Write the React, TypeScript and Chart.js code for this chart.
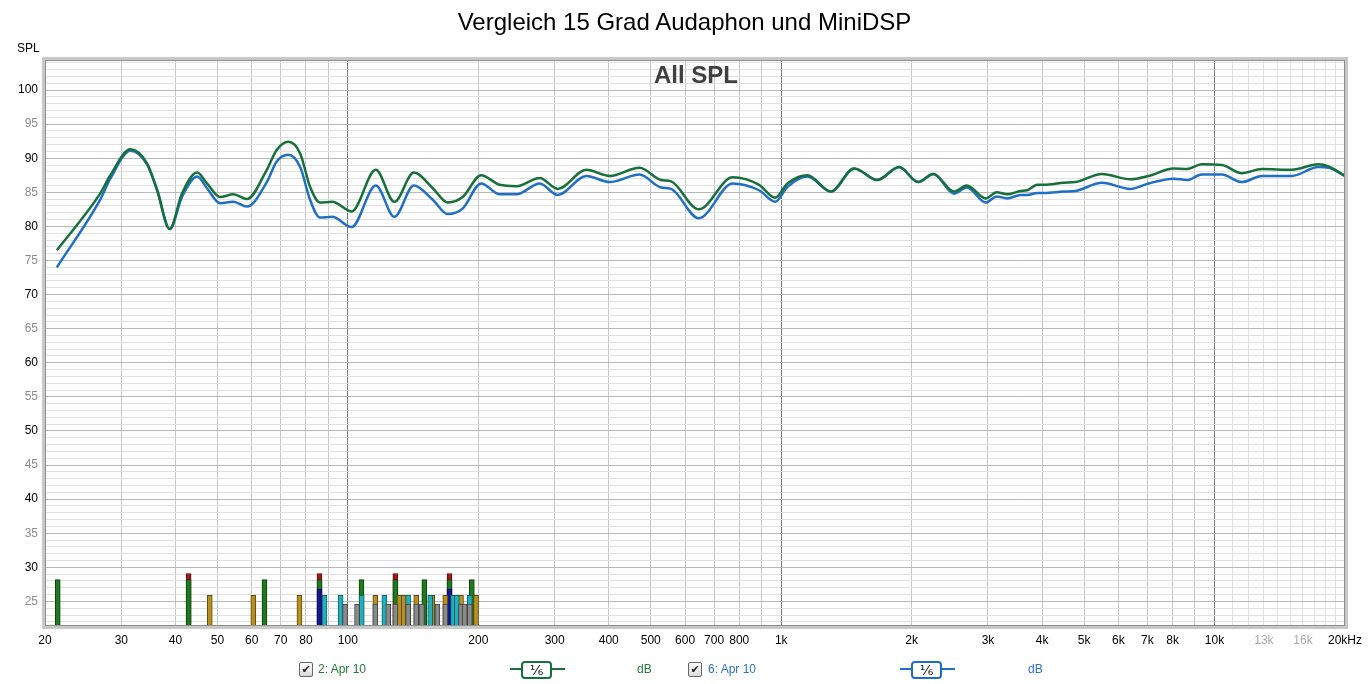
import React, { useEffect, useRef } from "react";
import { Chart, registerables } from "chart.js";

Chart.register(...registerables);

// frequency points (Hz)
const freqs = [
  21.3, 26.8, 28.3, 31.5, 34.4, 36.3, 38.8, 41.4, 44.9, 47.3, 50.7, 54.4, 58.5, 65, 68.5, 72.9, 77.6, 81.8,
  86.2, 92, 102, 116, 128, 142, 157, 170, 184, 203, 224, 245, 277, 305, 355, 402, 471, 528, 557, 645, 773,
  889, 968, 1034, 1150, 1302, 1474, 1667, 1871, 2069, 2244, 2506, 2681, 2965, 3141, 3323, 3567, 3697, 3899,
  4037, 4489, 4777, 5500, 6397, 7047, 8045, 8630, 9350, 10398, 11560, 12860, 15070, 17360, 18320, 20000,
];

// "2: Apr 10" (green)
const spl2 = [
  76.5, 84.8, 87.5, 91.3, 89.2, 85.3, 79.6, 84.8, 87.9, 86.3, 84.3, 84.7, 84.0, 88.3, 91.2, 92.4, 90.7, 85.8,
  83.5, 83.6, 82.2, 88.3, 83.6, 87.9, 85.6, 83.5, 84.3, 87.5, 86.1, 85.9, 87.1, 85.5, 88.3, 87.4, 88.6, 86.8,
  86.6, 82.5, 87.2, 86.1, 84.2, 86.3, 87.5, 85.1, 88.5, 86.8, 88.7, 86.5, 87.7, 85.1, 86.0, 84.1, 85.0, 84.7,
  85.2, 85.3, 86.1, 86.1, 86.4, 86.5, 87.7, 86.9, 87.4, 88.5, 88.4, 89.1, 89.0, 87.8, 88.4, 88.3, 89.1, 88.8,
  87.4,
];

// "6: Apr 10" (blue)
const spl6 = [
  74.0, 83.9, 87.0, 91.1, 89.1, 85.3, 79.6, 84.3, 87.3, 85.6, 83.4, 83.6, 82.9, 86.5, 89.5, 90.5, 88.7, 83.9,
  81.3, 81.4, 79.9, 86.0, 81.4, 86.0, 83.9, 81.8, 82.6, 86.3, 84.7, 84.7, 86.3, 84.6, 87.4, 86.5, 87.6, 85.7,
  85.5, 81.2, 86.3, 85.3, 83.6, 85.8, 87.3, 85.1, 88.5, 86.8, 88.7, 86.5, 87.7, 84.8, 85.7, 83.5, 84.4, 84.1,
  84.6, 84.6, 84.9, 84.9, 85.1, 85.2, 86.4, 85.5, 86.3, 87.0, 86.8, 87.6, 87.6, 86.5, 87.4, 87.4, 88.7, 88.6,
  87.4,
];

// indicator bars at the bottom (frequency, top level in dB)
const redFreqs = [42.9, 86.0, 128.7, 171.6];
const redTop = 29.1;
const greenFreqs = [21.4, 42.9, 64.2, 86.0, 107.5, 128.7, 150.1, 171.6, 193.2];
const greenTop = 28.2;
const blueFreqs = [86.0, 171.6];
const blueTop = 26.8;
const goldFreqs = [48, 60.5, 77.3, 115.7, 131.6, 134.6, 143.8, 156.5, 167.8, 182.4, 197.6];
const goldTop = 25.9;
const cyanFreqs = [88.3, 96.2, 107.6, 121.4, 137.7, 154.9, 174.9, 178.4, 191.1];
const cyanTop = 25.9;
const grayFreqs = [98.5, 105.0, 115.7, 123.9, 128.7, 137.7, 143.8, 148.2, 160.9, 167.8, 182.4, 186.0, 191.1];
const grayTop = 24.6;

const xTicks = [
  20, 30, 40, 50, 60, 70, 80, 90, 100, 200, 300, 400, 500, 600, 700, 800, 900, 1000, 2000, 3000, 4000, 5000,
  6000, 7000, 8000, 9000, 10000, 11000, 12000, 13000, 14000, 15000, 16000, 17000, 18000, 19000, 20000,
];
const xLabels: Record<number, string> = {
  20: "20", 30: "30", 40: "40", 50: "50", 60: "60", 70: "70", 80: "80", 100: "100", 200: "200", 300: "300",
  400: "400", 500: "500", 600: "600", 700: "700", 800: "800", 1000: "1k", 2000: "2k", 3000: "3k", 4000: "4k",
  5000: "5k", 6000: "6k", 7000: "7k", 8000: "8k", 10000: "10k", 13000: "13k", 16000: "16k", 20000: "20kHz",
};
const yTicks = Array.from({ length: 83 }, (_, i) => 22 + i);

const Y_MIN = 21.4;
const Y_MAX = 104.4;

const FONT = '"Liberation Sans", Arial, sans-serif';

const framePlugin = {
  id: "frame",
  afterDraw(chart: any) {
    const { ctx, chartArea: a } = chart;
    ctx.save();
    ctx.strokeStyle = "#c8c8c8";
    ctx.lineWidth = 3;
    ctx.strokeRect(a.left - 1.5, a.top - 1.5, a.right - a.left + 3, a.bottom - a.top + 3);
    ctx.strokeStyle = "#8e8e8e";
    ctx.lineWidth = 1;
    ctx.strokeRect(a.left + 0.5, a.top + 0.5, a.right - a.left - 1, a.bottom - a.top - 1);
    ctx.restore();
  },
};

const bars = (fs: number[], top: number, bg: string, border: string, order: number) => ({
  type: "bar" as const,
  data: fs.map((f) => ({ x: f, y: [Y_MIN, top] })),
  backgroundColor: bg,
  borderColor: border,
  borderWidth: 1,
  borderSkipped: "start" as const,
  barThickness: 5,
  grouped: false,
  order,
});

const Checkbox: React.FC<{ left: number }> = ({ left }) => (
  <div
    style={{
      position: "absolute",
      left,
      top: 662,
      width: 12,
      height: 13,
      border: "1px solid #666",
      borderRadius: 2,
      background: "linear-gradient(#ffffff, #d8d8d8)",
      fontSize: 11,
      lineHeight: "13px",
      textAlign: "center",
      color: "#222",
      fontFamily: '"DejaVu Sans", sans-serif',
    }}
  >
    ✔
  </div>
);

const LineSymbol: React.FC<{ left: number; color: string }> = ({ left, color }) => (
  <>
    <div style={{ position: "absolute", left, top: 668, width: 55, height: 2, background: color }} />
    <div
      style={{
        position: "absolute",
        left: left + 11,
        top: 661,
        width: 27,
        height: 14,
        border: `2px solid ${color}`,
        borderRadius: 4,
        background: "#fff",
        fontSize: 14,
        lineHeight: "14px",
        textAlign: "center",
        color: "#222",
        fontFamily: '"DejaVu Sans", sans-serif',
      }}
    >
      ⅙
    </div>
  </>
);

const App: React.FC = () => {
  const canvasRef = useRef<HTMLCanvasElement>(null);
  const chartRef = useRef<Chart>();

  useEffect(() => {
    if (!canvasRef.current) return;
    const ctx = canvasRef.current.getContext("2d");
    if (!ctx) return;

    chartRef.current = new Chart(ctx, {
      type: "line",
      data: {
        datasets: [
          {
            type: "line",
            label: "2: Apr 10",
            data: freqs.map((f, i) => ({ x: f, y: spl2[i] })),
            borderColor: "#17703a",
            borderWidth: 2.5,
            pointRadius: 0,
            cubicInterpolationMode: "monotone",
            fill: false,
            order: 0,
          },
          {
            type: "line",
            label: "6: Apr 10",
            data: freqs.map((f, i) => ({ x: f, y: spl6[i] })),
            borderColor: "#1f6fc6",
            borderWidth: 2.5,
            pointRadius: 0,
            cubicInterpolationMode: "monotone",
            fill: false,
            order: 0,
          },
          bars(redFreqs, redTop, "#a8141e", "#5a0a0a", 6),
          bars(greenFreqs, greenTop, "#1e7a1e", "#0e400e", 5),
          bars(blueFreqs, blueTop, "#16168e", "#0a0a50", 4),
          bars(goldFreqs, goldTop, "#b8901e", "#5e4a10", 3),
          bars(cyanFreqs, cyanTop, "#22b0bc", "#106068", 2),
          bars(grayFreqs, grayTop, "#8a8a8a", "#404040", 1),
        ] as any,
      },
      options: {
        animation: false,
        responsive: true,
        maintainAspectRatio: false,
        layout: { padding: { top: 60, right: 22, bottom: 33, left: 0 } },
        plugins: {
          legend: { display: false },
          tooltip: { enabled: false },
        },
        scales: {
          x: {
            type: "logarithmic",
            min: 20,
            max: 20000,
            offset: false,
            border: { display: false },
            afterBuildTicks: (scale: any) => {
              scale.ticks = xTicks.map((v) => ({ value: v }));
            },
            afterFit: (scale: any) => {
              scale.height = 25;
            },
            grid: {
              offset: false,
              drawTicks: false,
              lineWidth: 1,
              color: (c: any) => {
                const v = c.tick?.value;
                if (v === 100 || v === 1000 || v === 10000) return "#7a7a7a";
                if (v > 10000) return "#e2e2e2";
                return "#c6c6c6";
              },
            },
            ticks: {
              autoSkip: false,
              maxRotation: 0,
              padding: 7,
              font: { family: FONT, size: 12 },
              color: (c: any) => (c.tick?.value === 13000 || c.tick?.value === 16000 ? "#a8a8a8" : "#000"),
              callback: (value: any) => xLabels[Number(value)] ?? "",
            },
          },
          y: {
            type: "linear",
            min: Y_MIN,
            max: Y_MAX,
            beginAtZero: false,
            border: { display: false },
            afterBuildTicks: (scale: any) => {
              scale.ticks = yTicks.map((v) => ({ value: v }));
            },
            afterFit: (scale: any) => {
              scale.width = 45;
            },
            grid: {
              drawTicks: false,
              lineWidth: 1,
              color: (c: any) => (c.tick?.value % 5 === 0 ? "#b8b8b8" : "#e0e0e0"),
            },
            ticks: {
              autoSkip: false,
              padding: 7,
              font: { family: FONT, size: 12 },
              color: (c: any) => (c.tick?.value % 10 === 0 ? "#000" : "#8c8c8c"),
              callback: (value: any) => {
                const v = Number(value);
                return v % 5 === 0 && v >= 25 && v <= 100 ? String(v) : "";
              },
            },
          },
        },
      } as any,
      plugins: [framePlugin],
    });

    return () => {
      if (chartRef.current) {
        chartRef.current.destroy();
      }
    };
  }, []);

  const text = (left: number, top: number, s: string, color: string, extra: React.CSSProperties = {}) => (
    <div style={{ position: "absolute", left, top, fontFamily: FONT, fontSize: 12, color, whiteSpace: "nowrap", ...extra }}>
      {s}
    </div>
  );

  return (
    <div style={{ position: "fixed", left: 0, top: 0, width: 1369, height: 684, background: "#fff", overflow: "hidden" }}>
      <div style={{ position: "absolute", left: 0, top: 0, width: 1369, height: 684 }}>
        <canvas ref={canvasRef} />
      </div>
      <div
        style={{
          position: "absolute",
          left: 0,
          width: 1369,
          top: 8,
          textAlign: "center",
          fontFamily: FONT,
          fontSize: 24,
          color: "#000",
        }}
      >
        Vergleich 15 Grad Audaphon und MiniDSP
      </div>
      {text(17, 41, "SPL", "#000")}
      <div
        style={{
          position: "absolute",
          left: 596,
          width: 200,
          top: 61,
          textAlign: "center",
          fontFamily: FONT,
          fontWeight: "bold",
          fontSize: 24,
          color: "#404040",
        }}
      >
        All SPL
      </div>
      <Checkbox left={299} />
      {text(318, 662, "2: Apr 10", "#207a3a")}
      <LineSymbol left={510} color="#17703a" />
      {text(637, 662, "dB", "#207a3a")}
      <Checkbox left={688} />
      {text(708, 662, "6: Apr 10", "#2a72c4")}
      <LineSymbol left={900} color="#1f6fc6" />
      {text(1028, 662, "dB", "#2a72c4")}
    </div>
  );
};

export default App;
